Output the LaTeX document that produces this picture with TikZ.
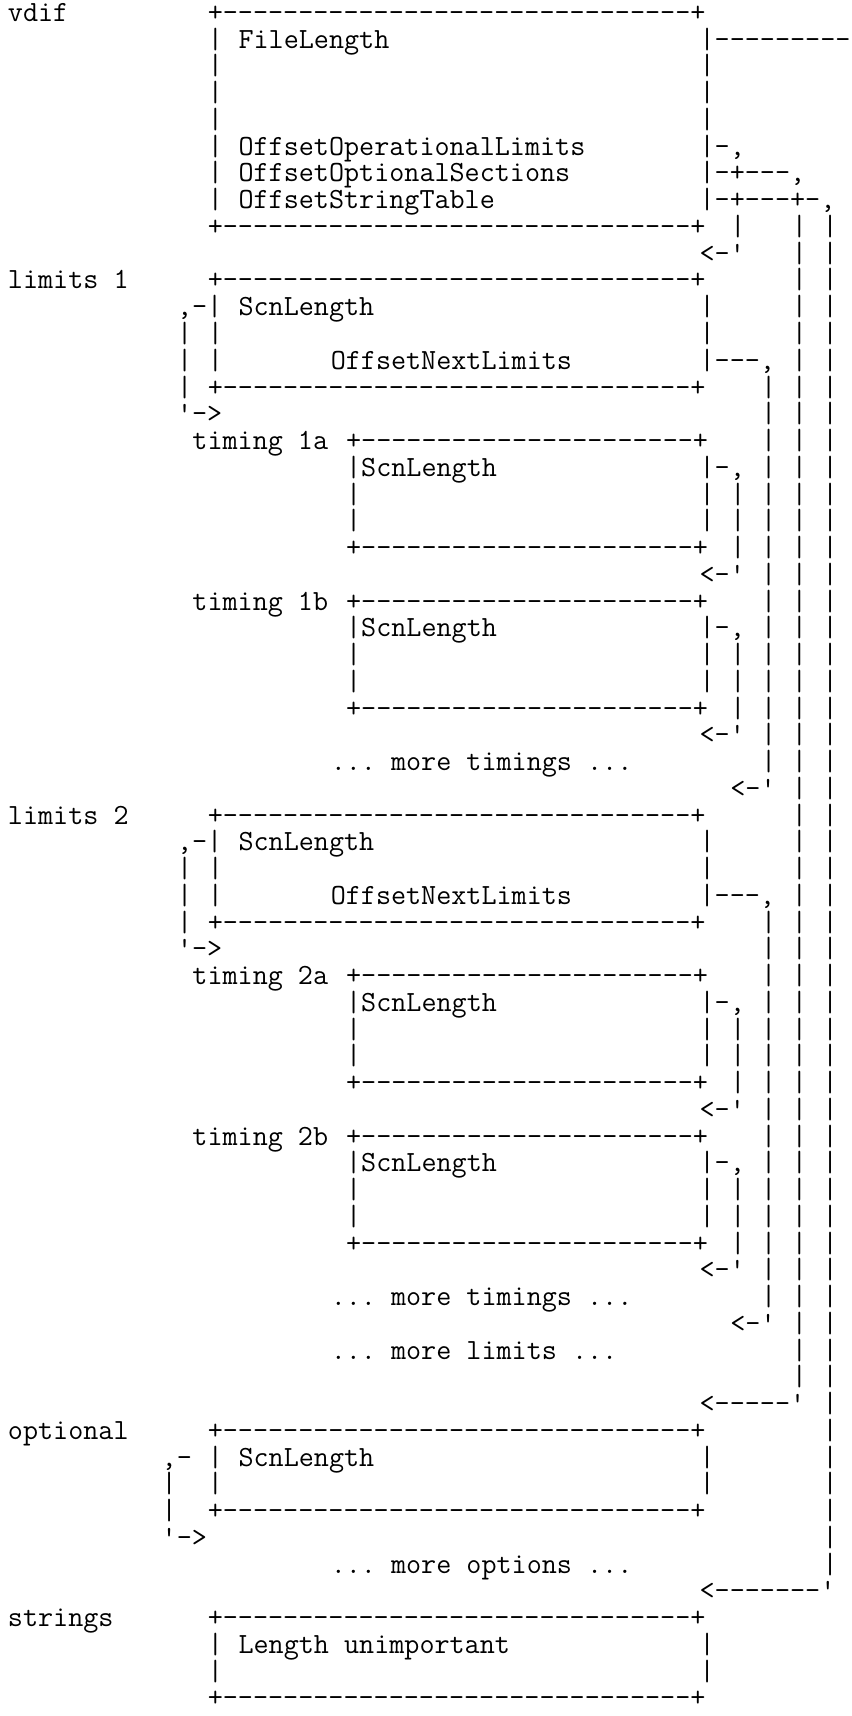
\documentclass[tikz,border=0pt]{standalone}
\usepackage{fontspec}
\setmonofont{Latin Modern Mono}
\newcounter{asciin}
\newcommand\dashten{----------}
\newcommand\asciibig{+\dashten\dashten\dashten-+}
\newcommand\asciismall{+\dashten\dashten--+}
\tikzset{ascii/.style={anchor=base west, inner sep=0pt, outer sep=0pt,
  font=\ttfamily\fontsize{29.28pt}{26.75pt}\selectfont\frenchspacing}}
\newcommand\putt[3]{\stepcounter{asciin}\edef\asciiname{a\arabic{asciin}}%
  \node[ascii] (\asciiname) at (#1,#2) {#3};}
% timing block: #1 row of its label line, #2 label
\newcommand\timblock[2]{%
  \putt{12}{#1}{#2}\putt{22}{#1}{\asciismall}%
  \putt{22}{#1+1}{|ScnLength}\putt{45}{#1+1}{|-,}%
  \putt{22}{#1+2}{|}\putt{45}{#1+2}{|}\putt{47}{#1+2}{|}%
  \putt{22}{#1+3}{|}\putt{45}{#1+3}{|}\putt{47}{#1+3}{|}%
  \putt{22}{#1+4}{\asciismall}\putt{47}{#1+4}{|}%
  \putt{45}{#1+5}{<-'}}
% limits block: #1 row of its label line, #2 label, #3 #4 timing labels
\newcommand\limblock[4]{%
  \putt{0}{#1}{#2}\putt{13}{#1}{\asciibig}%
  \putt{11}{#1+1}{,-|}\putt{15}{#1+1}{ScnLength}\putt{45}{#1+1}{|}%
  \putt{11}{#1+2}{|}\putt{13}{#1+2}{|}\putt{45}{#1+2}{|}%
  \putt{11}{#1+3}{|}\putt{13}{#1+3}{|}\putt{21}{#1+3}{OffsetNextLimits}\putt{45}{#1+3}{|---,}%
  \putt{11}{#1+4}{|}\putt{13}{#1+4}{\asciibig}%
  \putt{11}{#1+5}{'->}%
  \foreach \r in {4,...,18} {\putt{49}{#1+\r}{|}}%
  \timblock{#1+6}{#3}%
  \timblock{#1+12}{#4}%
  \putt{21}{#1+18}{... more timings ...}%
  \putt{47}{#1+19}{<-'}}
\begin{document}
\begin{tikzpicture}[x=15.37pt,y=-26.75pt]
\useasboundingbox (-0.5205,-0.8037) rectangle (54.912,63.346);
% vdif
\putt{0}{0}{vdif}
\putt{13}{0}{\asciibig}
\putt{13}{1}{|}\putt{15}{1}{FileLength}\putt{45}{1}{|---------}
\foreach \r in {2,3,4} {\putt{13}{\r}{|}\putt{45}{\r}{|}}
\putt{13}{5}{|}\putt{15}{5}{OffsetOperationalLimits}\putt{45}{5}{|-,}
\putt{13}{6}{|}\putt{15}{6}{OffsetOptionalSections}\putt{45}{6}{|-+---,}
\putt{13}{7}{|}\putt{15}{7}{OffsetStringTable}\putt{45}{7}{|-+---+-,}
\putt{13}{8}{\asciibig}\putt{47}{8}{|}
\putt{45}{9}{<-'}
% long connectors
\foreach \r in {8,...,51} {\putt{51}{\r}{|}}
\foreach \r in {8,...,58} {\putt{53}{\r}{|}}
% limits
\limblock{10}{limits 1}{timing 1a}{timing 1b}
\limblock{30}{limits 2}{timing 2a}{timing 2b}
\putt{21}{50}{... more limits ...}
\putt{45}{52}{<-----'}
% optional
\putt{0}{53}{optional}\putt{13}{53}{\asciibig}
\putt{10}{54}{,-}\putt{13}{54}{|}\putt{15}{54}{ScnLength}\putt{45}{54}{|}
\putt{10}{55}{|}\putt{13}{55}{|}\putt{45}{55}{|}
\putt{10}{56}{|}\putt{13}{56}{\asciibig}
\putt{10}{57}{'->}
\putt{21}{58}{... more options ...}
\putt{45}{59}{<-------'}
% strings
\putt{0}{60}{strings}\putt{13}{60}{\asciibig}
\putt{13}{61}{|}\putt{15}{61}{Length unimportant}\putt{45}{61}{|}
\putt{13}{62}{|}\putt{45}{62}{|}
\putt{13}{63}{\asciibig}
\end{tikzpicture}
\end{document}
